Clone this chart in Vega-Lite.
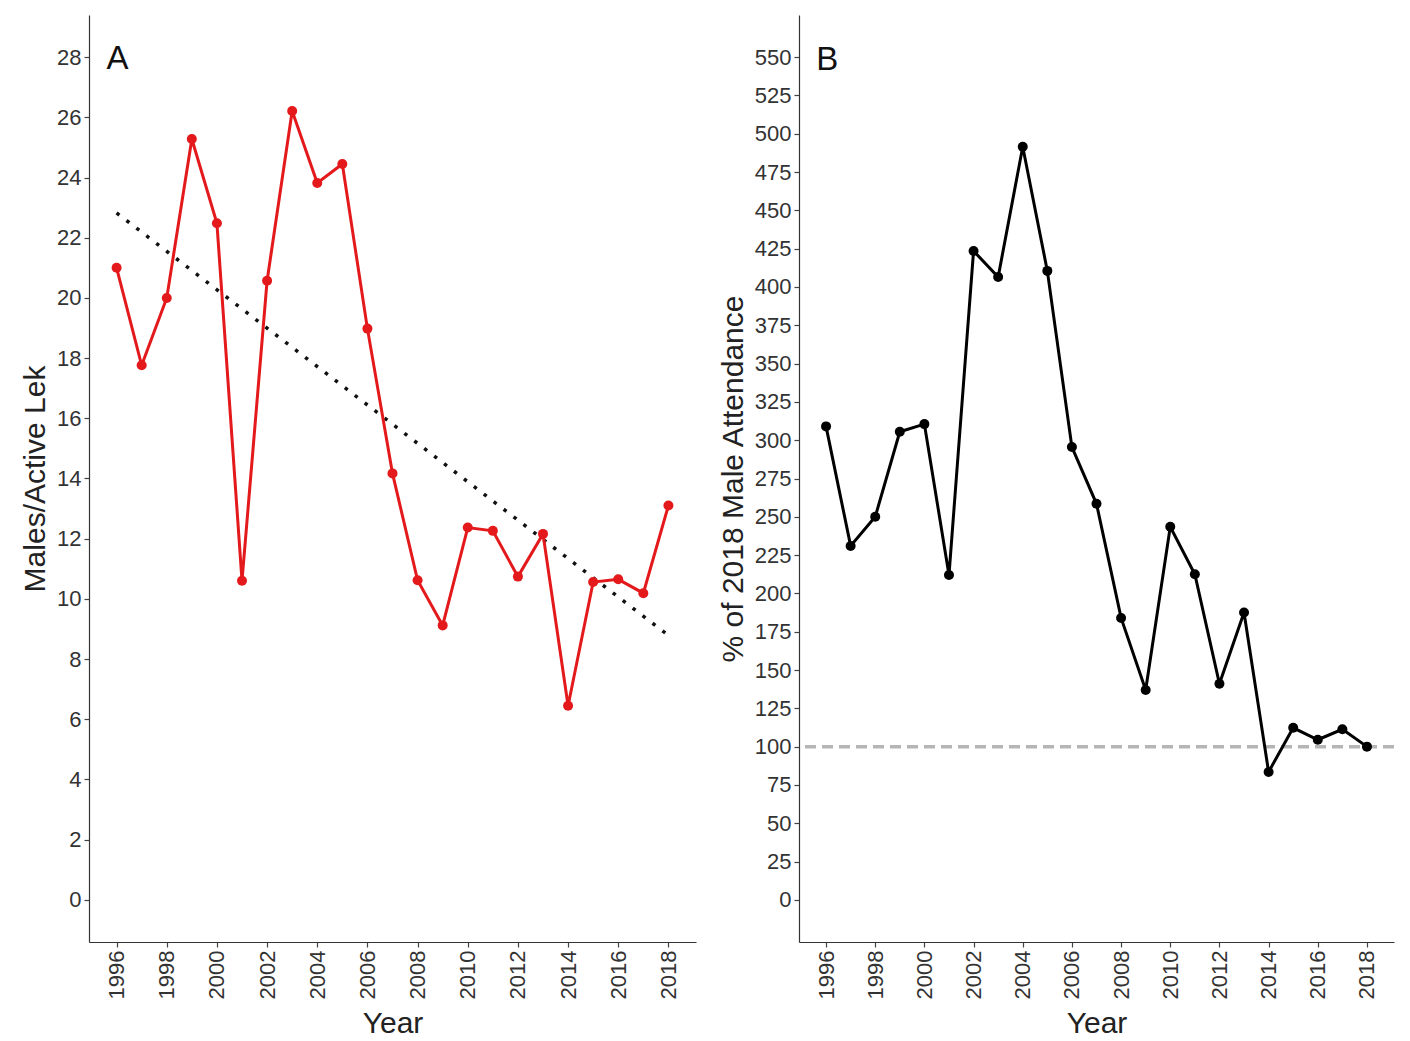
{
  "$schema": "https://vega.github.io/schema/vega-lite/v6.json",
  "background": "white",
  "padding": {"left": 20, "top": 15, "right": 5, "bottom": 0},
  "config": {
    "font": "Liberation Sans",
    "view": {"stroke": null},
    "axis": {
      "grid": false,
      "domainColor": "#333333",
      "domainWidth": 1.2,
      "tickColor": "#444444",
      "tickWidth": 1.2,
      "tickSize": 5,
      "labelFont": "Liberation Sans",
      "labelFontSize": 22,
      "labelColor": "#333333",
      "labelPadding": 3,
      "titleFont": "Liberation Sans",
      "titleFontSize": 30,
      "titleFontWeight": "normal",
      "titleColor": "#222222",
      "titlePadding": 6
    },
    "concat": {"spacing": 22}
  },
  "datasets": {
    "lek": [
      {"year": 1996, "males": 21.0, "pct": 309},
      {"year": 1997, "males": 17.76, "pct": 231},
      {"year": 1998, "males": 20.0, "pct": 250},
      {"year": 1999, "males": 25.28, "pct": 305.5},
      {"year": 2000, "males": 22.48, "pct": 310.5},
      {"year": 2001, "males": 10.6, "pct": 212},
      {"year": 2002, "males": 20.57, "pct": 423.5},
      {"year": 2003, "males": 26.21, "pct": 406.5},
      {"year": 2004, "males": 23.82, "pct": 491.5},
      {"year": 2005, "males": 24.45, "pct": 410.5},
      {"year": 2006, "males": 18.98, "pct": 295.5},
      {"year": 2007, "males": 14.17, "pct": 258.5},
      {"year": 2008, "males": 10.62, "pct": 184},
      {"year": 2009, "males": 9.12, "pct": 137},
      {"year": 2010, "males": 12.37, "pct": 243.5},
      {"year": 2011, "males": 12.26, "pct": 212.5},
      {"year": 2012, "males": 10.74, "pct": 141},
      {"year": 2013, "males": 12.16, "pct": 187.5},
      {"year": 2014, "males": 6.45, "pct": 83.5},
      {"year": 2015, "males": 10.56, "pct": 112.3},
      {"year": 2016, "males": 10.65, "pct": 104.5},
      {"year": 2017, "males": 10.19, "pct": 111.3},
      {"year": 2018, "males": 13.1, "pct": 100}
    ]
  },
  "hconcat": [
    {
      "width": 607,
      "height": 927,
      "layer": [
        {
          "data": {"name": "lek"},
          "transform": [{"regression": "males", "on": "year"}],
          "mark": {"type": "line", "color": "#111111", "strokeWidth": 3.5, "strokeDash": [3.5, 9]},
          "encoding": {
            "x": {
              "field": "year", "type": "quantitative",
              "scale": {"domain": [1994.9, 2019.1], "nice": false, "zero": false},
              "axis": {"title": "Year", "values": [1996,1998,2000,2002,2004,2006,2008,2010,2012,2014,2016,2018], "format": "d", "labelAngle": -90, "titlePadding": 10}
            },
            "y": {
              "field": "males", "type": "quantitative",
              "scale": {"domain": [-1.4, 29.4], "nice": false, "zero": false},
              "axis": {"title": "Males/Active Lek", "values": [0,2,4,6,8,10,12,14,16,18,20,22,24,26,28]}
            }
          }
        },
        {
          "data": {"name": "lek"},
          "mark": {"type": "line", "color": "#e3191c", "strokeWidth": 3},
          "encoding": {
            "x": {"field": "year", "type": "quantitative"},
            "y": {"field": "males", "type": "quantitative"}
          }
        },
        {
          "data": {"name": "lek"},
          "mark": {"type": "point", "filled": true, "color": "#e3191c", "size": 100, "opacity": 1},
          "encoding": {
            "x": {"field": "year", "type": "quantitative"},
            "y": {"field": "males", "type": "quantitative"}
          }
        },
        {
          "data": {"values": [{"label": "A"}]},
          "mark": {"type": "text", "fontSize": 33, "align": "left", "baseline": "alphabetic", "color": "#111111"},
          "encoding": {
            "x": {"datum": 1995.6, "type": "quantitative"},
            "y": {"datum": 27.6, "type": "quantitative"},
            "text": {"field": "label", "type": "nominal"}
          }
        }
      ]
    },
    {
      "width": 595,
      "height": 927,
      "layer": [
        {
          "data": {"values": [{"ref": 100}]},
          "mark": {"type": "rule", "color": "#b5b5b5", "strokeWidth": 3.5, "strokeDash": [11, 6]},
          "encoding": {
            "y": {
              "field": "ref", "type": "quantitative",
              "scale": {"domain": [-27.5, 577.5], "nice": false, "zero": false},
              "axis": {"title": "% of 2018 Male Attendance", "values": [0,25,50,75,100,125,150,175,200,225,250,275,300,325,350,375,400,425,450,475,500,525,550]}
            }
          }
        },
        {
          "data": {"name": "lek"},
          "mark": {"type": "line", "color": "#000000", "strokeWidth": 3},
          "encoding": {
            "x": {
              "field": "year", "type": "quantitative",
              "scale": {"domain": [1994.9, 2019.1], "nice": false, "zero": false},
              "axis": {"title": "Year", "values": [1996,1998,2000,2002,2004,2006,2008,2010,2012,2014,2016,2018], "format": "d", "labelAngle": -90, "titlePadding": 10}
            },
            "y": {"field": "pct", "type": "quantitative"}
          }
        },
        {
          "data": {"name": "lek"},
          "mark": {"type": "point", "filled": true, "color": "#000000", "size": 100, "opacity": 1},
          "encoding": {
            "x": {"field": "year", "type": "quantitative"},
            "y": {"field": "pct", "type": "quantitative"}
          }
        },
        {
          "data": {"values": [{"label": "B"}]},
          "mark": {"type": "text", "fontSize": 33, "align": "left", "baseline": "alphabetic", "color": "#111111"},
          "encoding": {
            "x": {"datum": 1995.6, "type": "quantitative"},
            "y": {"datum": 541.6, "type": "quantitative"},
            "text": {"field": "label", "type": "nominal"}
          }
        }
      ]
    }
  ]
}
